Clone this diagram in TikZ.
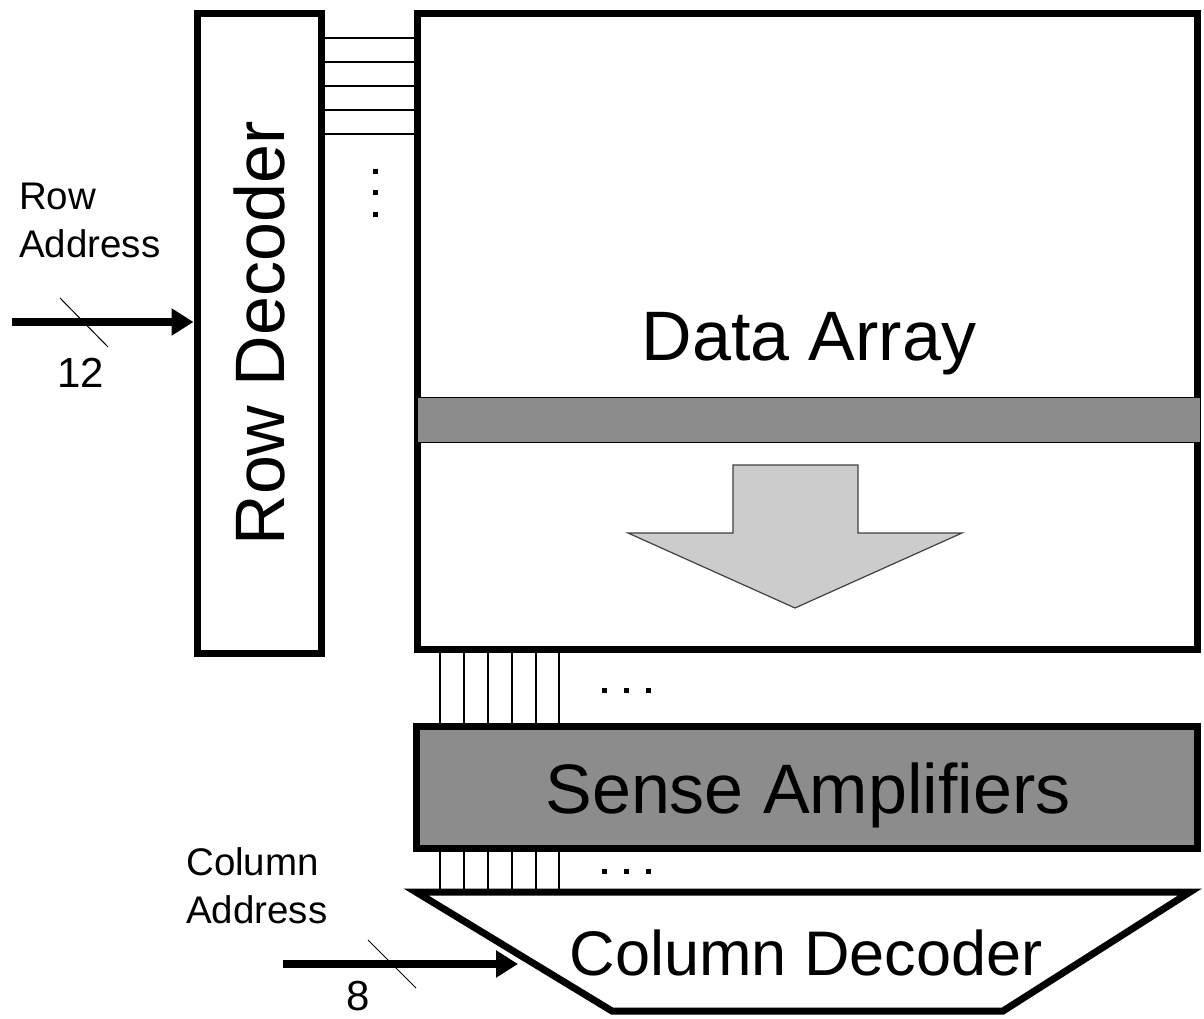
\documentclass[tikz,border=0pt]{standalone}
\usepackage{fontspec}
\setmainfont{Liberation Sans}
\usetikzlibrary{arrows.meta}
\definecolor{bandgray}{HTML}{8C8C8C}
\definecolor{flowgray}{HTML}{CCCCCC}
\definecolor{edgegray}{HTML}{404040}

\begin{document}
\begin{tikzpicture}[x=1pt,y=-1pt,
  block/.style={draw, line width=7pt, inner sep=0pt},
  wire/.style={line width=1.3pt},
  bus/.style={line width=7.5pt, -{Triangle[length=22pt,width=26pt]}},
  slash/.style={line width=1pt},
  dotmark/.style={fill, inner sep=0pt, minimum size=5pt},
  biglabel/.style={font=\fontsize{70}{80}\selectfont, inner sep=0pt},
  midlabel/.style={font=\fontsize{63}{72}\selectfont, inner sep=0pt},
  sidelabel/.style={font=\fontsize{38.5}{48}\selectfont, align=left, inner sep=0pt},
  numlabel/.style={font=\fontsize{42}{48}\selectfont, inner sep=0pt}
]
\useasboundingbox (0,0) rectangle (1204,1019);

% main blocks
\node[block, minimum width=124pt, minimum height=639pt, biglabel]
  (rowdec) at (259,333.5) {\rotatebox{90}{Row Decoder}};
\node[block, minimum width=780pt, minimum height=635pt] (array) at (807,331.5) {};
\node[draw, line width=1pt, fill=bandgray, minimum width=783pt, minimum height=45pt]
  (band) at (808.5,419.5) {};
\node[block, fill=bandgray, minimum width=781pt, minimum height=122pt]
  (senseamp) at (806.5,787) {};

% labels inside the blocks
\node[biglabel, anchor=base] (arraylabel) at (809,360) {Data Array};
\node[biglabel, anchor=base] (senselabel) at (808,813) {Sense Amplifiers};

% row being read out, moving down
\filldraw[fill=flowgray, draw=edgegray, line width=1.2pt]
  (733,465) -- (858,465) -- (858,533) -- (962,533) -- (795,608)
  -- (628,533) -- (733,533) -- cycle;

% column decoder (trapezoid)
\coordinate (cdTL) at (416,892);
\coordinate (cdTR) at (1190,892);
\coordinate (cdBR) at (1003,1011);
\coordinate (cdBL) at (612,1011);
\draw[line width=7pt, line join=miter, miter limit=10]
  (cdTL) -- (cdTR) -- (cdBR) -- (cdBL) -- cycle;
\node[midlabel, anchor=base] (coldec) at (806,975) {Column Decoder};

% word lines
\foreach \y in {38,62,86,110,134}
  \draw[wire] (rowdec.east |- 0,\y) -- (array.west |- 0,\y);
\foreach \y [count=\i] in {172,193,214}
  \node[dotmark] (wd\i) at (375,\y) {};

% bit lines
\foreach \x in {440,464,488,512,536,559} {
  \draw[wire] (array.south -| \x,0) -- (senseamp.north -| \x,0);
  \draw[wire] (senseamp.south -| \x,0) -- (cdTL -| \x,0);
}
\foreach \x [count=\i] in {604,626,648} {
  \node[dotmark] (bu\i) at (\x,690) {};
  \node[dotmark] (bl\i) at (\x,871) {};
}

% row address input
\coordinate (rowin) at (12,322);
\draw[bus] (rowin) -- (rowdec.west |- rowin);
\coordinate (rs1) at (60,298);
\coordinate (rs2) at (108,347);
\draw[slash] (rs1) -- (rs2);
\node[sidelabel, anchor=north west] (rowaddr) at (19,183) {Row\\Address};
\node[numlabel, anchor=base] (rowbits) at (81,387) {12};

% column address input
\coordinate (colin) at (283,964);
\coordinate (coltip) at (518,964);
\draw[bus] (colin) -- (coltip);
\coordinate (cs1) at (368,940);
\coordinate (cs2) at (416,988);
\draw[slash] (cs1) -- (cs2);
\node[sidelabel, anchor=north west] (coladdr) at (186,847) {Column\\Address};
\node[numlabel, anchor=base] (colbits) at (358,1010) {8};
\end{tikzpicture}
\end{document}
